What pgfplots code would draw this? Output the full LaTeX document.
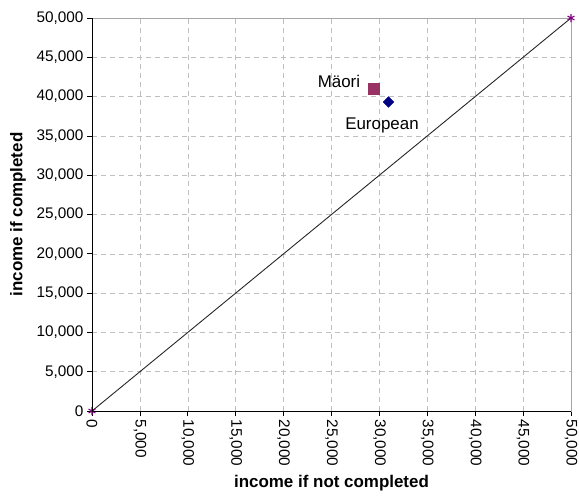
\documentclass[border=0pt]{standalone}
\usepackage{fontspec}
\setmainfont{Liberation Sans}
\usepackage{pgfplots}
\pgfplotsset{compat=1.18}
\definecolor{maorired}{HTML}{993366}
\definecolor{euroblue}{HTML}{000080}
\definecolor{endpurple}{HTML}{800080}
\begin{document}
\begin{tikzpicture}
\begin{axis}[
  scale only axis,
  width=479bp, height=393bp,
  xmin=0, xmax=50000, ymin=0, ymax=50000,
  xtick={0,5000,...,50000},
  ytick={0,5000,...,50000},
  scaled ticks=false,
  /pgf/number format/fixed,
  /pgf/number format/1000 sep={,},
  /pgf/number format/assume math mode=true,
  tick label style={font=\fontsize{15.4}{18}\selectfont},
  x tick label style={rotate=-90, anchor=west},
  grid=major,
  major grid style={gray!50, dash pattern=on 5bp off 4bp, line width=0.6bp},
  axis line style={gray!70, line width=0.8bp},
  tick align=outside,
  xtick pos=bottom, ytick pos=left,
  major tick length=5bp,
  tick style={black, line width=0.8bp},
  xlabel={income if not completed},
  ylabel={income if completed},
  label style={font=\fontsize{17}{20}\selectfont\bfseries},
  xlabel style={at={(axis description cs:0.5,-0.1832)}, anchor=center},
  ylabel style={at={(axis description cs:-0.1545,0.5)}, anchor=center},
  clip=false,
  after end axis/.code={
    \draw[black, line width=0.9bp] (rel axis cs:0,1) -- (rel axis cs:0,0) -- (rel axis cs:1,0);
    \coordinate (ll) at (rel axis cs:0,0);
    \coordinate (ur) at (rel axis cs:1,1);
  },
]
% equality line
\addplot[black!85, line width=0.9bp, mark=asterisk,
  mark options={endpurple, mark size=4bp, line width=1.1bp}]
  coordinates {(0,0) (50000,50000)};
% Maori
\addplot[only marks, mark=square*, mark size=5.5bp, color=maorired]
  coordinates {(29380,41030)};
% European
\addplot[only marks, mark=square*, mark size=3.8bp, color=euroblue,
  mark options={rotate=45}]
  coordinates {(30950,39310)};
\node[font=\fontsize{17}{20}\selectfont] at (axis cs:25780,41920) {Mäori};
\node[font=\fontsize{17}{20}\selectfont] at (axis cs:30270,36320) {European};
\end{axis}
\pgfresetboundingbox
\useasboundingbox ([shift={(-92bp,-84bp)}]ll) rectangle ([shift={(8bp,18bp)}]ur);
\end{tikzpicture}
\end{document}
